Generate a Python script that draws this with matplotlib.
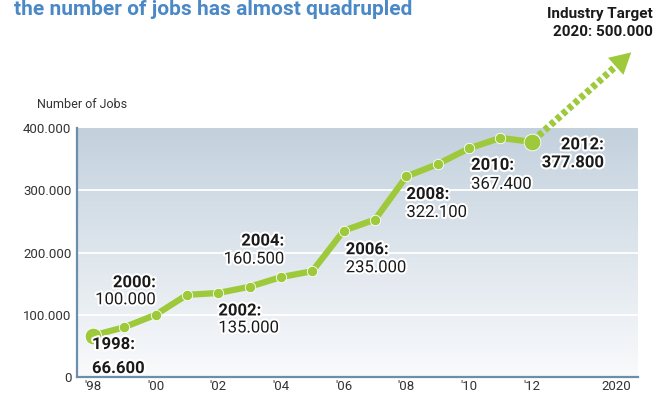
import numpy as np
import matplotlib
matplotlib.use("Agg")
import matplotlib.pyplot as plt
from matplotlib.colors import LinearSegmentedColormap
from matplotlib import patheffects

# data
years = [1998, 1999, 2000, 2001, 2002, 2003, 2004, 2005, 2006, 2007, 2008, 2009, 2010, 2011, 2012]
jobs = [66600, 80000, 100000, 132000, 135000, 145000, 160500, 170000, 235000, 253000,
        322100, 342000, 367400, 384000, 377800]
label_years = [1998, 2000, 2002, 2004, 2006, 2008, 2010, 2012]
label_values = ["66.600", "100.000", "135.000", "160.500", "235.000", "322.100", "367.400", "377.800"]
target_year = 2020
target_jobs = 500000
y_ticks = [0, 100000, 200000, 300000, 400000]
y_tick_labels = ["0", "100.000", "200.000", "300.000", "400.000"]
x_tick_years = [1998, 2000, 2002, 2004, 2006, 2008, 2010, 2012, 2020]
x_tick_labels = ["'98", "'00", "'02", "'04", "'06", "'08", "'10", "'12", "2020"]

# layout: (ha, dx, dy bold, dy value, value bold) in pixels from the point
label_layout = {
    1998: ("left", -1, -9, -33, True),
    2000: ("right", 0, 32, 15, False),
    2002: ("left", 0, -18, -35, False),
    2004: ("right", 3, 36, 18, False),
    2006: ("left", 2, -19, -37, False),
    2008: ("left", 0, -18, -36, False),
    2010: ("left", 2, -17, -36, False),
    2012: ("right", 72, -3, -21, True),
}
TARGET_POS = 16.7  # broken axis: 2020 squeezed in after '12

GREEN = "#9dc93a"
BLUE_SPINE = "#6b8eab"
FONT = "Roboto"


def xpos(y):
    return TARGET_POS if y == target_year else y - years[0]


fig = plt.figure(figsize=(6.55, 3.94), dpi=100)
ax = fig.add_axes([77 / 655, 17 / 394, (638 - 77) / 655, (378 - 129) / 394])

xlim = (-0.51, 17.39)
ax.set_xlim(*xlim)
ax.set_ylim(0, 400000)

# gradient background
cmap = LinearSegmentedColormap.from_list("bg", ["#f9fafc", "#c3d1dd"])
ax.imshow(np.linspace(0, 1, 256).reshape(-1, 1), cmap=cmap, origin="lower",
          extent=[xlim[0], xlim[1], 0, 400000], aspect="auto", zorder=0)

for t in y_ticks[1:-1]:
    ax.axhline(t, color="white", lw=1.3, zorder=1)

xs = [xpos(y) for y in years]
ax.plot(xs, jobs, color=GREEN, lw=4.5, marker="o", ms=7.5, mfc=GREEN,
        mec="white", mew=0.6, zorder=3, solid_capstyle="round")
ax.plot([xs[0], xs[-1]], [jobs[0], jobs[-1]], ls="none", marker="o", ms=12,
        color=GREEN, mec="white", mew=0.6, zorder=4)

# dotted arrow to the industry target
ext = 1.2
x0, y0 = xs[-1], jobs[-1]
x1 = x0 + (xpos(target_year) - x0) * ext
y1 = y0 + (target_jobs - y0) * ext
xm = x0 + (x1 - x0) * 0.9
ym = y0 + (y1 - y0) * 0.9
ax.plot([x0 + (x1 - x0) * 0.07, xm], [y0 + (y1 - y0) * 0.07, ym], color=GREEN, lw=5,
        ls=(0, (0.7, 0.45)), dash_capstyle="butt", clip_on=False, zorder=3)
ax.annotate("", xy=(x1, y1), xytext=(xm - (x1 - x0) * 0.02, ym - (y1 - y0) * 0.02),
            arrowprops=dict(arrowstyle="-|>,head_length=1.0,head_width=0.55",
                            color=GREEN, lw=0, mutation_scale=15),
            annotation_clip=False, zorder=3)

# point labels
stroke = [patheffects.withStroke(linewidth=3, foreground="white")]
for yr, val in zip(label_years, label_values):
    ha, dx, dyb, dyv, vbold = label_layout[yr]
    pt = (xpos(yr), jobs[years.index(yr)])
    ax.annotate(f"{yr}:", pt, xytext=(dx, dyb), textcoords="offset pixels",
                ha=ha, va="center", fontsize=12, fontweight="bold", family=FONT,
                color="#1a1a1a", path_effects=stroke, zorder=5)
    ax.annotate(val, pt, xytext=(dx, dyv), textcoords="offset pixels",
                ha=ha, va="center", fontsize=12, family=FONT,
                fontweight="bold" if vbold else "normal",
                color="#1a1a1a", path_effects=stroke, zorder=5)

# axes styling
ax.set_yticks(y_ticks)
ax.set_yticklabels(y_tick_labels)
ax.set_xticks([xpos(y) for y in x_tick_years])
ax.set_xticklabels(x_tick_labels)
ax.tick_params(length=0, labelsize=9.5, labelcolor="#333333")
ax.tick_params(axis="x", pad=2.5)
ax.tick_params(axis="y", pad=4)
for lab in ax.get_xticklabels() + ax.get_yticklabels():
    lab.set_family(FONT)
for s in ["top", "right"]:
    ax.spines[s].set_visible(False)
for s in ["left", "bottom"]:
    ax.spines[s].set_color(BLUE_SPINE)
    ax.spines[s].set_linewidth(1.6)
    ax.spines[s].set_zorder(6)

fig.text(37 / 655, 1 - 105 / 394, "Number of Jobs", fontsize=9, family=FONT,
         color="#333333", va="center", ha="left")
fig.text(14 / 655, 1 - 15 / 394, "the number of jobs has almost quadrupled", fontsize=15,
         family=FONT, fontweight="bold", color="#4a88c6", va="baseline", ha="left")
fig.text(653 / 655, 1 - 14 / 394, "Industry Target", fontsize=11, family=FONT,
         fontweight="bold", color="#1a1a1a", va="center", ha="right")
fig.text(653 / 655, 1 - 32 / 394, f"{target_year}: {target_jobs:,}".replace(",", "."),
         fontsize=11, family=FONT, fontweight="bold", color="#1a1a1a", va="center", ha="right")

fig.savefig("out.png", dpi=100)
